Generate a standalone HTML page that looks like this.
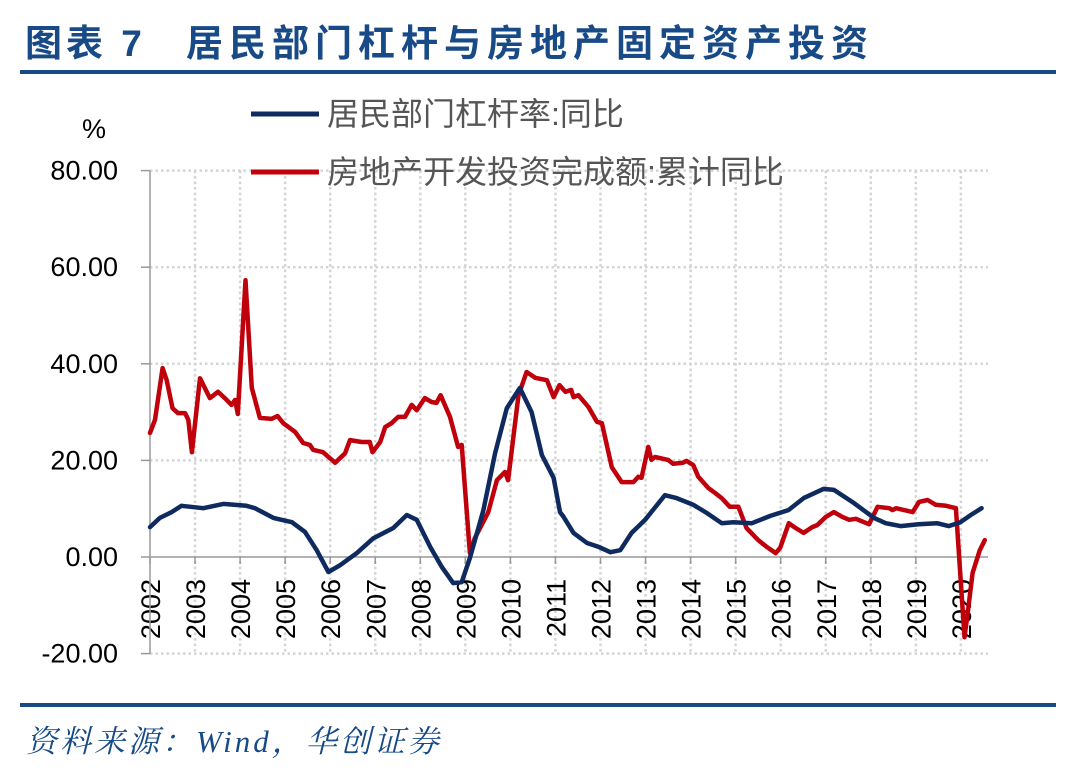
<!DOCTYPE html>
<html><head><meta charset="utf-8"><style>
body{margin:0;background:#fff;}
svg text{font-family:"Liberation Sans","Noto Sans CJK SC",sans-serif;}
</style></head><body>
<svg width="1078" height="775" viewBox="0 0 1078 775" xmlns="http://www.w3.org/2000/svg">
<g font-size="37" font-weight="bold" fill="#174a86" style="font-family:'Liberation Serif','Noto Serif CJK SC',serif">
<text x="25" y="56" letter-spacing="4">图表 7</text>
<text x="186" y="56" letter-spacing="6">居民部门杠杆与房地产固定资产投资</text>
</g>
<rect x="20" y="70" width="1036" height="4" fill="#174a86"/>
<rect x="20" y="703" width="1036" height="4" fill="#174a86"/>
<text x="26" y="752" font-size="31" letter-spacing="3" font-style="italic" fill="#174a86" style="font-family:'Liberation Serif','Noto Serif CJK SC',serif">资料来源：Wind，华创证券</text>
<text x="82" y="138" font-size="27" fill="#000">%</text>
<g id="grid"></g>
<g id="axes"></g>
<g id="series"></g>
<g>
<line x1="251" y1="114" x2="319" y2="114" stroke="#0e2a5e" stroke-width="5"/>
<text x="327" y="125" font-size="32" fill="#555">居民部门杠杆率:同比</text>
<line x1="251" y1="172" x2="319" y2="172" stroke="#c0000b" stroke-width="5"/>
<text x="327" y="183" font-size="32" fill="#555">房地产开发投资完成额:累计同比</text>
</g>
</svg>
<script>
const yTicks=[80,60,40,20,0,-20];
const yTickLabels=["80.00","60.00","40.00","20.00","0.00","-20.00"];
const years=[2002,2003,2004,2005,2006,2007,2008,2009,2010,2011,2012,2013,2014,2015,2016,2017,2018,2019,2020];
const leverageDates=[2002.0,2002.22,2002.48,2002.7,2003.18,2003.63,2004.14,2004.33,2004.74,2005.15,2005.44,2005.7,2005.96,2006.22,2006.59,2006.96,2007.4,2007.7,2007.92,2008.22,2008.48,2008.73,2008.92,2009.1,2009.4,2009.66,2009.92,2010.21,2010.47,2010.7,2010.96,2011.1,2011.18,2011.4,2011.7,2011.96,2012.22,2012.44,2012.69,2012.99,2013.43,2013.69,2014.06,2014.36,2014.69,2014.95,2015.36,2015.77,2016.17,2016.51,2016.95,2017.18,2017.62,2018.07,2018.33,2018.66,2019.06,2019.47,2019.73,2019.99,2020.22,2020.46];
const leverageValues=[6.2,8.1,9.3,10.6,10.1,11.0,10.6,10.1,8.1,7.2,5.2,1.4,-3.1,-1.7,0.8,3.9,6.0,8.7,7.7,2.1,-2.1,-5.4,-5.2,-0.2,9.7,21.5,30.8,35.0,30.0,21.1,16.4,9.3,8.3,5.0,2.9,2.1,1.0,1.4,5.0,7.7,12.8,12.2,10.8,9.1,7.0,7.2,7.0,8.5,9.7,12.2,14.1,13.9,11.2,8.1,7.0,6.4,6.8,7.0,6.4,7.2,8.7,10.1];
const investDates=[2002.0,2002.11,2002.28,2002.37,2002.5,2002.62,2002.78,2002.85,2002.93,2003.11,2003.33,2003.51,2003.66,2003.81,2003.89,2003.95,2004.12,2004.26,2004.44,2004.7,2004.83,2004.96,2005.22,2005.4,2005.55,2005.62,2005.84,2006.11,2006.33,2006.44,2006.7,2006.88,2006.94,2007.11,2007.22,2007.36,2007.51,2007.66,2007.81,2007.92,2008.1,2008.25,2008.36,2008.45,2008.66,2008.84,2008.92,2009.1,2009.21,2009.51,2009.7,2009.88,2009.95,2010.18,2010.36,2010.55,2010.81,2010.96,2011.09,2011.22,2011.35,2011.4,2011.51,2011.73,2011.92,2012.03,2012.25,2012.47,2012.73,2012.84,2012.91,2013.06,2013.13,2013.21,2013.5,2013.61,2013.83,2013.91,2014.06,2014.17,2014.39,2014.54,2014.69,2014.87,2015.06,2015.24,2015.5,2015.69,2015.89,2015.99,2016.18,2016.33,2016.51,2016.7,2016.81,2017.0,2017.18,2017.37,2017.52,2017.67,2017.85,2017.96,2018.15,2018.41,2018.48,2018.56,2018.93,2019.07,2019.26,2019.44,2019.67,2019.89,2020.08,2020.15,2020.26,2020.42,2020.53];
const investValues=[25.7,28.4,39.1,36.6,30.8,29.8,29.8,28.4,21.7,37.0,32.9,34.2,32.9,31.5,32.5,29.6,57.3,35.0,28.8,28.6,29.2,27.7,25.9,23.6,23.2,22.2,21.7,19.5,21.5,24.2,23.8,23.8,21.7,23.8,26.9,27.7,29.0,29.0,31.5,30.4,32.9,32.1,31.9,33.5,29.0,22.8,23.2,0.8,3.9,9.3,15.9,17.6,15.9,33.5,38.3,37.1,36.6,33.1,35.6,34.2,34.6,33.1,33.5,31.1,28.0,27.7,18.6,15.5,15.5,16.6,16.4,22.8,20.1,20.7,20.1,19.3,19.5,19.9,19.0,16.6,14.3,13.3,12.2,10.4,10.4,6.0,3.5,2.1,0.8,1.9,7.0,6.0,5.0,6.2,6.6,8.3,9.3,8.3,7.7,7.9,7.2,6.8,10.4,10.1,9.7,10.1,9.3,11.4,11.8,10.8,10.6,10.1,-16.6,-11.6,-3.3,1.4,3.5];

const NS="http://www.w3.org/2000/svg";
const xS=t=>150+45.05*(t-2002);
const yS=v=>557-4.83*v;
const X0=150,X1=988;
function mk(tag,attrs,parent){const e=document.createElementNS(NS,tag);for(const k in attrs)e.setAttribute(k,attrs[k]);parent.appendChild(e);return e;}
const grid=document.getElementById('grid'),axes=document.getElementById('axes'),series=document.getElementById('series');
yTicks.forEach((v,i)=>{
  if(v!==0){const l=mk('line',{x1:X0,x2:X1,y1:yS(v),y2:yS(v),stroke:'#d4d4d4','stroke-width':2.5,'stroke-dasharray':'2.5 3'},grid);
  
  }
  const tk=mk('line',{x1:X0-9,x2:X0,y1:yS(v),y2:yS(v),stroke:'#999','stroke-width':1.5},axes);
  
  
  const t=mk('text',{x:118,y:yS(v)+9,'text-anchor':'end','font-size':27,fill:'#000'},axes);
  t.textContent=yTickLabels[i];
  
  
});
years.forEach(yr=>{
  const x=xS(yr);
  if(yr>2002){const l=mk('line',{x1:x,x2:x,y1:yS(80),y2:yS(-20),stroke:'#d4d4d4','stroke-width':2.5,'stroke-dasharray':'2.5 3'},grid);
  
  }
  const tk=mk('line',{x1:x,x2:x,y1:557,y2:564,stroke:'#999','stroke-width':1.5},axes);
  
  
  const t=mk('text',{x:0,y:0,transform:`translate(${x+10},579) rotate(-90)`,'text-anchor':'end','font-size':27,fill:'#000'},axes);
  t.textContent=yr;
  
  
});
const ya=mk('line',{x1:X0,x2:X0,y1:yS(80),y2:yS(-20),stroke:'#999','stroke-width':1.5},axes);


const xa=mk('line',{x1:X0,x2:X1,y1:557,y2:557,stroke:'#999','stroke-width':1.5},axes);


function path(ds,vs,color,name){
  const d=ds.map((t,i)=>(i?'L':'M')+xS(t).toFixed(1)+','+yS(vs[i]).toFixed(1)).join('');
  const p=mk('path',{d:d,fill:'none',stroke:color,'stroke-width':4.5,'stroke-linejoin':'round','stroke-linecap':'round'},series);
  
  
}
path(investDates,investValues,'#c0000b','investment-growth-line');
path(leverageDates,leverageValues,'#0e2a5e','household-leverage-line');
</script>
</body></html>
